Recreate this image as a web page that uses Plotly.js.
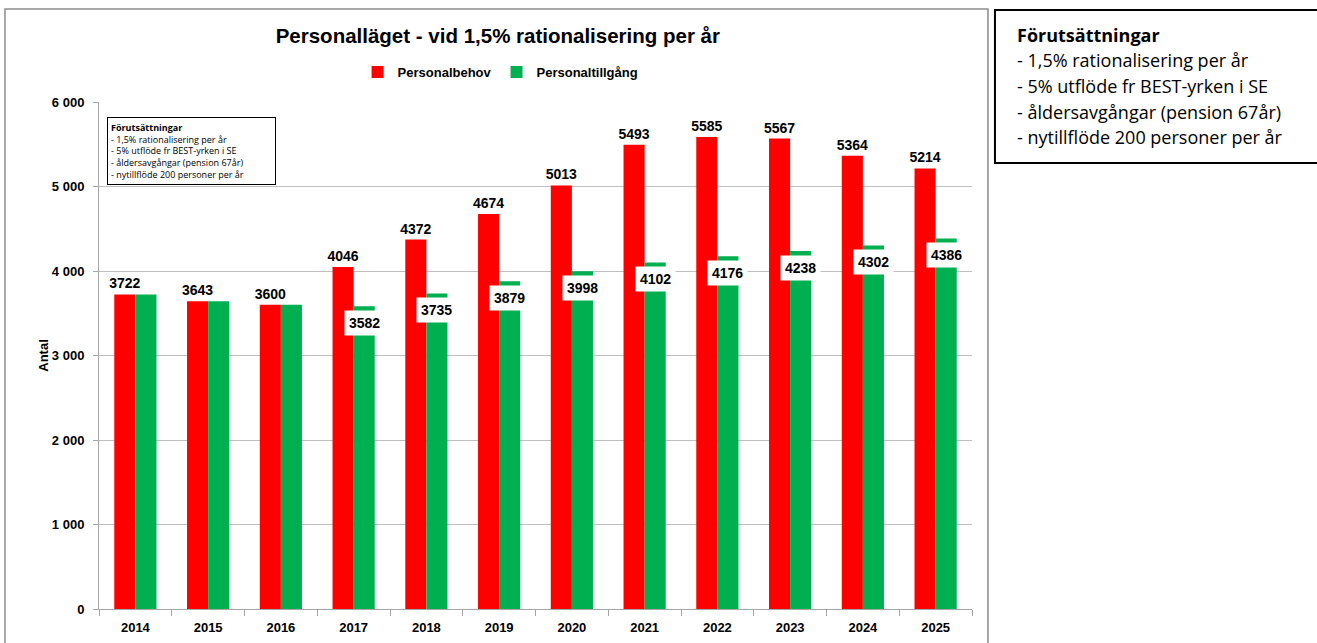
<!DOCTYPE html>
<html>
<head>
<meta charset="utf-8">
<script src="https://cdn.plot.ly/plotly-3.0.1.min.js"></script>
<style>html,body{margin:0;padding:0;background:#fff;}#chart{width:1317px;height:643px;}</style>
</head>
<body>
<div id="chart"></div>
<script>
const years = ['2014','2015','2016','2017','2018','2019','2020','2021','2022','2023','2024','2025'];
const behov = [3722, 3643, 3600, 4046, 4372, 4674, 5013, 5493, 5585, 5567, 5364, 5214];
const tillgang = [3722, 3643, 3600, 3582, 3735, 3879, 3998, 4102, 4176, 4238, 4302, 4386];
const seriesNames = ['Personalbehov', 'Personaltillgång'];
const chartTitle = 'Personalläget - vid 1,5% rationalisering per år';
const yTitle = 'Antal';
const noteTitle = 'Förutsättningar';
const noteLines = ['- 1,5% rationalisering per år', '- 5% utflöde fr BEST-yrken i SE', '- åldersavgångar (pension 67år)', '- nytillflöde 200 personer per år'];

const FONT = 'Liberation Sans, Arial, sans-serif';
const NOTEFONT = 'Open Sans, Liberation Sans, sans-serif';
const bargap = 0.42;

const traces = [
  {type:'bar', name:seriesNames[0], x:years, y:behov, marker:{color:'#FF0000'},
   text:behov.map(String), textposition:'outside', cliponaxis:false, constraintext:'none',
   textfont:{family:FONT, size:14, color:'#000', weight:'bold'}},
  {type:'bar', name:seriesNames[1], x:years, y:tillgang, marker:{color:'#00B050'},
   textposition:'none'}
];

const off = (1 - bargap) / 4;
const annotations = [];
tillgang.forEach((v, i) => {
  if (v !== behov[i]) {
    annotations.push({x:i + off, y:v, xref:'x', yref:'y', yanchor:'top', yshift:-4,
      text:'<b>' + v + '</b>', showarrow:false, bgcolor:'#fff', borderpad:4,
      font:{family:FONT, size:14, color:'#000'}});
  }
});
// small note box inside the plot
annotations.push({xref:'paper', yref:'paper', x:0.009, y:0.970, xanchor:'left', yanchor:'top',
  align:'left', showarrow:false, bgcolor:'#fff', bordercolor:'#000', borderwidth:1, borderpad:3,
  width:161,
  text:'<b>' + noteTitle + '</b><br>' + noteLines.join('<br>'),
  font:{family:NOTEFONT, size:9, color:'#000'}});
// large note box on the right, one annotation per line
const pyToPaper = py => (609 - py) / 507;
[('<b>' + noteTitle + '</b>')].concat(noteLines).forEach((t, i) => {
  annotations.push({xref:'paper', yref:'paper', x:1.049, y:pyToPaper(35 + 25.5 * i),
    xanchor:'left', yanchor:'middle', align:'left', showarrow:false, text:t,
    font:{family:NOTEFONT, size:18, color:'#000'}});
});

const layout = {
  width:1317, height:643,
  margin:{l:99, r:345, t:102, b:34},
  paper_bgcolor:'#fff', plot_bgcolor:'#fff',
  separators:', ',
  font:{family:FONT, color:'#000'},
  title:{text:'<b>' + chartTitle + '</b>', xref:'container', yref:'container', x:0.378, y:0.944,
    xanchor:'center', yanchor:'middle', font:{family:FONT, size:20.5, color:'#000'}},
  barmode:'group', bargap:bargap, bargroupgap:0,
  showlegend:true,
  legend:{orientation:'h', x:0.46, y:1.059, xanchor:'center', yanchor:'middle',
    font:{family:FONT, size:13, color:'#000', weight:'bold'}, itemwidth:30, bgcolor:'rgba(0,0,0,0)'},
  xaxis:{type:'category', showline:true, linecolor:'#A6A6A6', linewidth:1,
    ticks:'outside', tickson:'boundaries', ticklen:6, tickcolor:'#A6A6A6', ticklabelstandoff:6,
    tickfont:{family:FONT, size:13, color:'#000', weight:'bold'}, showgrid:false, fixedrange:true},
  yaxis:{range:[0,6000], dtick:1000, tickformat:',d', showline:true, linecolor:'#A6A6A6', linewidth:1,
    ticks:'outside', ticklen:5, tickcolor:'#A6A6A6', gridcolor:'#BFBFBF', gridwidth:1,
    zeroline:false, automargin:false, ticklabelstandoff:6,
    tickfont:{family:FONT, size:13, color:'#000', weight:'bold'},
    title:{text:'<b>' + yTitle + '</b>', standoff:0, font:{family:FONT, size:13, color:'#000'}}},
  shapes:[
    {type:'rect', xref:'paper', yref:'paper', x0:-0.1077, x1:1.0183, y0:-0.2, y1:1.1834,
     line:{color:'#8C8C8C', width:1.5}, fillcolor:'rgba(0,0,0,0)', layer:'below'},
    {type:'rect', xref:'paper', yref:'paper', x0:1.0263, x1:1.3986, y0:0.8797, y1:1.1815,
     line:{color:'#000', width:2}, fillcolor:'rgba(0,0,0,0)'}
  ],
  annotations:annotations
};

Plotly.newPlot('chart', traces, layout, {displayModeBar:false, staticPlot:true});
</script>
</body>
</html>
